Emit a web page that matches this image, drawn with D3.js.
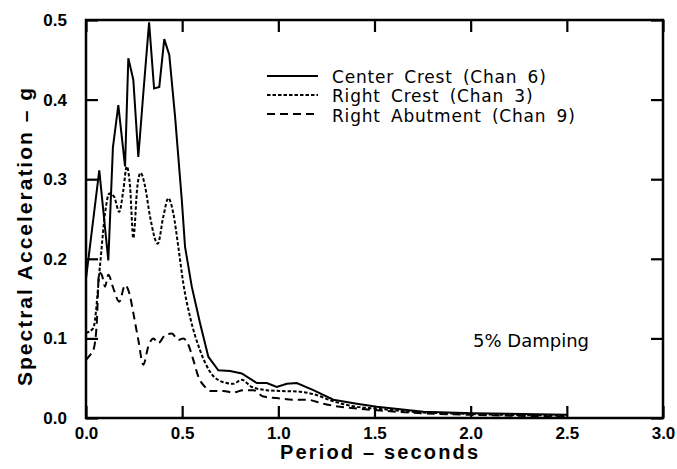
<!DOCTYPE html>
<html>
<head>
<meta charset="utf-8">
<script src="https://cdn.jsdelivr.net/npm/d3@7"></script>
<style>
  body { margin: 0; background: #fff; }
  #chart { width: 677px; height: 469px; }
  text { fill: #000; }
</style>
</head>
<body>
<div id="chart"></div>
<script>
// -------------------------------
// Data
// -------------------------------
const xTicks = [0, 0.5, 1.0, 1.5, 2.0, 2.5, 3.0];
const yTicks = [0, 0.1, 0.2, 0.3, 0.4, 0.5];

const centerPeriod = [0, 0.069, 0.116, 0.140, 0.168, 0.203, 0.220, 0.246, 0.272, 0.298, 0.328, 0.354, 0.381, 0.407, 0.433, 0.463, 0.498, 0.515, 0.550, 0.593, 0.636, 0.688, 0.749, 0.810, 0.888, 0.940, 0.992, 1.044, 1.096, 1.182, 1.286, 1.408, 1.512, 1.754, 2.012, 2.5];
const centerAccel = [0.175, 0.311, 0.198, 0.340, 0.393, 0.316, 0.452, 0.425, 0.328, 0.408, 0.497, 0.414, 0.416, 0.476, 0.456, 0.379, 0.274, 0.215, 0.165, 0.119, 0.077, 0.060, 0.059, 0.056, 0.044, 0.044, 0.039, 0.043, 0.044, 0.035, 0.023, 0.018, 0.014, 0.008, 0.006, 0.004];

const rightCrestPeriod = [0, 0.038, 0.073, 0.099, 0.121, 0.146, 0.173, 0.194, 0.212, 0.229, 0.246, 0.267, 0.284, 0.307, 0.333, 0.373, 0.402, 0.428, 0.454, 0.480, 0.506, 0.541, 0.593, 0.645, 0.714, 0.766, 0.810, 0.862, 0.940, 1.009, 1.113, 1.182, 1.286, 1.408, 1.5, 1.75, 2.0, 2.5];
const rightCrestAccel = [0.107, 0.113, 0.192, 0.257, 0.282, 0.278, 0.259, 0.286, 0.316, 0.291, 0.226, 0.291, 0.308, 0.291, 0.253, 0.219, 0.253, 0.276, 0.257, 0.215, 0.169, 0.127, 0.085, 0.058, 0.045, 0.043, 0.048, 0.039, 0.035, 0.034, 0.033, 0.030, 0.021, 0.014, 0.012, 0.007, 0.005, 0.003];

const abutPeriod = [0, 0.021, 0.038, 0.056, 0.068, 0.082, 0.099, 0.116, 0.142, 0.173, 0.203, 0.225, 0.246, 0.272, 0.298, 0.324, 0.350, 0.376, 0.411, 0.446, 0.480, 0.506, 0.532, 0.558, 0.584, 0.619, 0.645, 0.714, 0.766, 0.818, 0.870, 0.922, 0.992, 1.078, 1.147, 1.234, 1.321, 1.408, 1.5, 1.75, 2.0, 2.5];
const abutAccel = [0.073, 0.079, 0.085, 0.119, 0.183, 0.180, 0.165, 0.180, 0.163, 0.146, 0.167, 0.157, 0.132, 0.098, 0.067, 0.090, 0.100, 0.094, 0.104, 0.106, 0.098, 0.100, 0.092, 0.073, 0.052, 0.039, 0.034, 0.034, 0.032, 0.035, 0.035, 0.027, 0.025, 0.023, 0.023, 0.018, 0.014, 0.012, 0.010, 0.006, 0.004, 0.002];

const seriesNames = ["Center Crest (Chan 6)", "Right Crest (Chan 3)", "Right Abutment (Chan 9)"];
const seriesDash = [null, "3.5,2", "8,5"];

const series = [
  { name: seriesNames[0], dash: seriesDash[0], curve: d3.curveLinear,
    points: centerPeriod.map((t, i) => ({ t, a: centerAccel[i] })) },
  { name: seriesNames[1], dash: seriesDash[1], curve: d3.curveMonotoneX,
    points: rightCrestPeriod.map((t, i) => ({ t, a: rightCrestAccel[i] })) },
  { name: seriesNames[2], dash: seriesDash[2], curve: d3.curveMonotoneX,
    points: abutPeriod.map((t, i) => ({ t, a: abutAccel[i] })) },
];

// -------------------------------
// Layout
// -------------------------------
const width = 677, height = 469;
const margin = { top: 20, right: 14, bottom: 51, left: 86 };
const innerWidth = width - margin.left - margin.right;
const innerHeight = height - margin.top - margin.bottom;

const svg = d3.select("#chart").append("svg")
  .attr("width", width)
  .attr("height", height);

const g = svg.append("g")
  .attr("transform", `translate(${margin.left},${margin.top})`);

// -------------------------------
// Scales
// -------------------------------
const x = d3.scaleLinear().domain([0, 3]).range([0, innerWidth]);
const y = d3.scaleLinear().domain([0, 0.5]).range([innerHeight, 0]);

// -------------------------------
// Axes (ticks inward on all sides)
// -------------------------------
const tickFont = "bold 17px 'Liberation Sans', Arial, sans-serif";

g.append("g")
  .attr("transform", `translate(0,${innerHeight})`)
  .call(d3.axisBottom(x).tickValues(xTicks).tickFormat(d3.format(".1f")).tickSize(-12).tickPadding(9))
  .call(a => a.select(".domain").remove())
  .call(a => a.selectAll("text").style("font", tickFont));

g.append("g")
  .call(d3.axisTop(x).tickValues(xTicks).tickFormat("").tickSize(-12))
  .call(a => a.select(".domain").remove());

g.append("g")
  .call(d3.axisLeft(y).tickValues(yTicks).tickFormat(d3.format(".1f")).tickSize(-12).tickPadding(19))
  .call(a => a.select(".domain").remove())
  .call(a => a.selectAll("text").style("font", tickFont));

g.append("g")
  .attr("transform", `translate(${innerWidth},0)`)
  .call(d3.axisRight(y).tickValues(yTicks).tickFormat("").tickSize(-12))
  .call(a => a.select(".domain").remove());

g.selectAll(".tick line").attr("stroke", "#000").attr("stroke-width", 2.2);

g.append("rect")
  .attr("width", innerWidth)
  .attr("height", innerHeight)
  .attr("fill", "none")
  .attr("stroke", "#000")
  .attr("stroke-width", 2.5);

// -------------------------------
// Axis titles
// -------------------------------
svg.append("text")
  .attr("x", 379)
  .attr("y", 459)
  .attr("text-anchor", "middle")
  .attr("textLength", 198)
  .attr("lengthAdjust", "spacing")
  .style("font", "bold 20px 'Liberation Sans', Arial, sans-serif")
  .text("Period – seconds");

svg.append("text")
  .attr("transform", "translate(32,237) rotate(-90)")
  .attr("text-anchor", "middle")
  .attr("textLength", 298)
  .attr("lengthAdjust", "spacing")
  .style("font", "bold 21px 'Liberation Sans', Arial, sans-serif")
  .text("Spectral Acceleration – g");

// -------------------------------
// Lines
// -------------------------------
series.forEach(s => {
  const line = d3.line()
    .x(d => x(d.t))
    .y(d => y(d.a))
    .curve(s.curve);
  g.append("path")
    .datum(s.points)
    .attr("d", line)
    .attr("fill", "none")
    .attr("stroke", "#000")
    .attr("stroke-width", 2)
    .attr("stroke-dasharray", s.dash);
});

// -------------------------------
// Legend
// -------------------------------
const legend = svg.append("g").attr("transform", "translate(267,76)");
series.forEach((s, i) => {
  legend.append("line")
    .attr("x1", 0).attr("x2", 51)
    .attr("y1", i * 19).attr("y2", i * 19)
    .attr("stroke", "#000")
    .attr("stroke-width", 2)
    .attr("stroke-dasharray", s.dash);
  legend.append("text")
    .attr("x", 65)
    .attr("y", i * 19.5 + 6.5)
    .style("font", "17px 'DejaVu Sans', sans-serif")
    .style("letter-spacing", "0.8px")
    .style("word-spacing", "4px")
    .text(s.name);
});

svg.append("text")
  .attr("x", 473)
  .attr("y", 347)
  .style("font", "18px 'DejaVu Sans', sans-serif")
  .text("5% Damping");
</script>
</body>
</html>
